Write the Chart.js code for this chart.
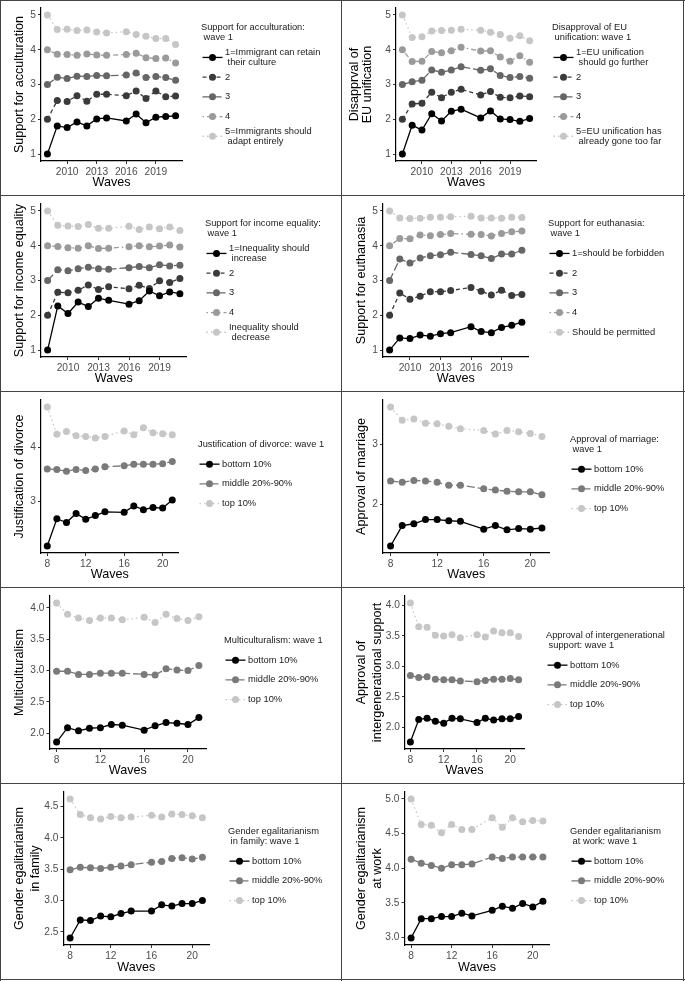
<!DOCTYPE html>
<html>
<head>
<meta charset="utf-8">
<script src="https://cdn.jsdelivr.net/npm/chart.js@4.4.1/dist/chart.umd.min.js"></script>
<style>
  body { margin: 0; background: #fff; }
  #wrap { position: relative; width: 685px; height: 981px; overflow: hidden; }
  #wrap canvas { position: absolute; }
  .ln { position: absolute; background: #444; }
</style>
</head>
<body>
<div id="wrap"></div>
<script>
// x values (no wave 15 / 2015)
const years = [2008, 2009, 2010, 2011, 2012, 2013, 2014, 2016, 2017, 2018, 2019, 2020, 2021];
const waves = [8, 9, 10, 11, 12, 13, 14, 16, 17, 18, 19, 20, 21];
const yearTicks = [2010, 2013, 2016, 2019];
const waveTicks = [8, 12, 16, 20];

// support for acculturation, by wave-1 answer
const accult1 = [1.0, 1.81, 1.76, 1.92, 1.81, 2.01, 2.04, 1.95, 2.15, 1.90, 2.06, 2.08, 2.10];
const accult2 = [2.0, 2.54, 2.51, 2.68, 2.52, 2.72, 2.72, 2.68, 2.81, 2.60, 2.81, 2.65, 2.67];
const accult3 = [3.0, 3.21, 3.17, 3.24, 3.23, 3.26, 3.25, 3.27, 3.33, 3.20, 3.23, 3.20, 3.12];
const accult4 = [4.0, 3.87, 3.86, 3.84, 3.88, 3.85, 3.84, 3.86, 3.90, 3.77, 3.75, 3.76, 3.62];
const accult5 = [5.0, 4.58, 4.59, 4.55, 4.57, 4.51, 4.48, 4.52, 4.44, 4.39, 4.32, 4.32, 4.15];

// disapproval of EU unification
const eu1 = [1.0, 1.83, 1.69, 2.16, 1.95, 2.23, 2.29, 2.04, 2.24, 2.01, 1.99, 1.94, 2.02];
const eu2 = [2.0, 2.44, 2.46, 2.78, 2.62, 2.78, 2.86, 2.70, 2.80, 2.63, 2.62, 2.67, 2.65];
const eu3 = [3.0, 3.08, 3.12, 3.42, 3.35, 3.42, 3.51, 3.41, 3.45, 3.26, 3.20, 3.23, 3.18];
const eu4 = [4.0, 3.66, 3.67, 3.95, 3.91, 3.97, 4.07, 3.96, 3.97, 3.79, 3.67, 3.83, 3.64];
const eu5 = [5.0, 4.35, 4.37, 4.54, 4.55, 4.56, 4.59, 4.56, 4.50, 4.44, 4.33, 4.40, 4.26];

// support for income equality
const inc1 = [1.0, 2.27, 2.05, 2.38, 2.25, 2.49, 2.43, 2.32, 2.42, 2.70, 2.56, 2.67, 2.62];
const inc2 = [2.0, 2.66, 2.65, 2.72, 2.87, 2.74, 2.82, 2.76, 2.86, 2.77, 2.99, 2.94, 3.06];
const inc3 = [3.0, 3.31, 3.28, 3.34, 3.38, 3.34, 3.32, 3.37, 3.40, 3.37, 3.45, 3.42, 3.44];
const inc4 = [4.0, 3.98, 3.94, 3.93, 4.00, 3.92, 3.93, 3.97, 4.00, 3.97, 3.99, 4.02, 3.96];
const inc5 = [5.0, 4.59, 4.57, 4.55, 4.61, 4.50, 4.50, 4.56, 4.47, 4.54, 4.49, 4.54, 4.44];

// support for euthanasia
const euth1 = [1.0, 1.35, 1.33, 1.43, 1.40, 1.47, 1.50, 1.67, 1.53, 1.50, 1.65, 1.71, 1.80];
const euth2 = [2.0, 2.64, 2.46, 2.55, 2.68, 2.68, 2.71, 2.80, 2.69, 2.58, 2.72, 2.57, 2.60];
const euth3 = [3.0, 3.62, 3.50, 3.65, 3.71, 3.74, 3.81, 3.75, 3.71, 3.63, 3.76, 3.76, 3.87];
const euth4 = [4.0, 4.21, 4.20, 4.31, 4.29, 4.32, 4.35, 4.33, 4.32, 4.28, 4.35, 4.40, 4.42];
const euth5 = [5.0, 4.80, 4.78, 4.79, 4.82, 4.82, 4.83, 4.85, 4.80, 4.80, 4.79, 4.82, 4.81];

// justification of divorce
const divBottom = [2.16, 2.67, 2.60, 2.77, 2.66, 2.73, 2.80, 2.79, 2.91, 2.84, 2.88, 2.87, 3.02];
const divMiddle = [3.60, 3.59, 3.56, 3.59, 3.57, 3.60, 3.64, 3.66, 3.69, 3.69, 3.69, 3.70, 3.74];
const divTop    = [4.76, 4.25, 4.30, 4.22, 4.21, 4.18, 4.21, 4.31, 4.24, 4.37, 4.28, 4.26, 4.24];

// approval of marriage
const marBottom = [1.31, 1.65, 1.68, 1.75, 1.75, 1.73, 1.72, 1.59, 1.65, 1.58, 1.60, 1.59, 1.61];
const marMiddle = [2.39, 2.37, 2.40, 2.39, 2.37, 2.32, 2.32, 2.26, 2.24, 2.22, 2.21, 2.21, 2.16];
const marTop    = [3.62, 3.40, 3.42, 3.35, 3.34, 3.30, 3.26, 3.23, 3.17, 3.23, 3.21, 3.18, 3.13];

// multiculturalism
const mulBottom = [1.86, 2.09, 2.04, 2.08, 2.09, 2.14, 2.13, 2.05, 2.12, 2.17, 2.16, 2.14, 2.25];
const mulMiddle = [2.99, 2.99, 2.94, 2.94, 2.96, 2.96, 2.96, 2.94, 2.93, 3.03, 3.01, 3.00, 3.08];
const mulTop    = [4.08, 3.90, 3.84, 3.80, 3.84, 3.84, 3.81, 3.85, 3.77, 3.90, 3.83, 3.80, 3.86];

// approval of intergenerational support
const intBottom = [1.76, 2.13, 2.15, 2.10, 2.07, 2.15, 2.14, 2.08, 2.15, 2.12, 2.14, 2.14, 2.18];
const intMiddle = [2.85, 2.82, 2.83, 2.79, 2.78, 2.78, 2.76, 2.75, 2.77, 2.79, 2.79, 2.80, 2.78];
const intTop    = [4.04, 3.65, 3.64, 3.51, 3.50, 3.52, 3.47, 3.52, 3.48, 3.58, 3.55, 3.55, 3.49];

// gender egalitarianism in family
const famBottom = [2.40, 2.69, 2.68, 2.75, 2.74, 2.79, 2.83, 2.83, 2.93, 2.91, 2.95, 2.95, 3.00];
const famMiddle = [3.49, 3.53, 3.52, 3.51, 3.53, 3.55, 3.57, 3.61, 3.62, 3.67, 3.68, 3.66, 3.69];
const famTop    = [4.62, 4.37, 4.32, 4.30, 4.34, 4.32, 4.33, 4.36, 4.33, 4.38, 4.37, 4.35, 4.32];

// gender egalitarianism at work
const wrkBottom = [2.99, 3.27, 3.27, 3.30, 3.30, 3.35, 3.31, 3.39, 3.45, 3.42, 3.49, 3.44, 3.52];
const wrkMiddle = [4.13, 4.07, 4.04, 4.00, 4.05, 4.05, 4.06, 4.16, 4.14, 4.16, 4.16, 4.16, 4.16];
const wrkTop    = [5.00, 4.63, 4.62, 4.51, 4.63, 4.56, 4.56, 4.73, 4.59, 4.73, 4.67, 4.69, 4.68];

const decileLabels = [['bottom 10%'], ['middle 20%-90%'], ['top 10%']];

const grey5 = ['#000000', '#3b3b3b', '#666666', '#9a9a9a', '#c6c6c6'];
const dash5 = [[], [4, 3], [8, 3], [1.5, 3, 5, 3], [1.5, 3]];
const grey3 = ['#000000', '#7a7a7a', '#c6c6c6'];
const dash3 = [[], [8, 3], [1.5, 3]];

const FONT = '"Liberation Sans", Arial, Helvetica, sans-serif';

const panels = [
  { col: 0, row: 0, x: years, xt: yearTicks, series: [accult1, accult2, accult3, accult4, accult5],
    ytitle: 'Support for acculturation', yt: [1, 2, 3, 4, 5], dec: 0,
    left: 41, right: 182, lx: 201, tx: 20, tlh: 1.1,
    ltitle: ['Support for acculturation:', ' wave 1'],
    labels: [['1=Immigrant can retain', ' their culture'], ['2'], ['3'], ['4'], ['5=Immigrants should', ' adapt entirely']] },
  { col: 1, row: 0, x: years, xt: yearTicks, series: [eu1, eu2, eu3, eu4, eu5],
    ytitle: ['Disapprval of', 'EU unification'], yt: [1, 2, 3, 4, 5], dec: 0,
    left: 54, right: 194, lx: 210, tx: 13, tlh: 0.98,
    ltitle: ['Disapproval of EU', ' unification: wave 1'],
    labels: [['1=EU unification', ' should go further'], ['2'], ['3'], ['4'], ['5=EU unification has', ' already gone too far']] },
  { col: 0, row: 1, x: years, xt: yearTicks, series: [inc1, inc2, inc3, inc4, inc5],
    ytitle: 'Support for income equality', yt: [1, 2, 3, 4, 5], dec: 0,
    left: 41, right: 186.5, lx: 205, tx: 20, tlh: 1.1,
    ltitle: ['Support for income equality:', ' wave 1'],
    labels: [['1=Inequality should', ' increase'], ['2'], ['3'], ['4'], ['Inequality should', ' decrease']] },
  { col: 1, row: 1, x: years, xt: yearTicks, series: [euth1, euth2, euth3, euth4, euth5],
    ytitle: 'Support for euthanasia', yt: [1, 2, 3, 4, 5], dec: 0,
    left: 41, right: 186.5, lx: 206, tx: 20, tlh: 1.1,
    ltitle: ['Support for euthanasia:', ' wave 1'],
    labels: [['1=should be forbidden'], ['2'], ['3'], ['4'], ['Should be permitted']] },
  { col: 0, row: 2, x: waves, xt: waveTicks, series: [divBottom, divMiddle, divTop],
    ytitle: 'Justification of divorce', yt: [3, 4], dec: 0,
    left: 41, right: 178.5, lx: 198, tx: 20, tlh: 1.1,
    ltitle: ['Justification of divorce: wave 1'], labels: decileLabels },
  { col: 1, row: 2, x: waves, xt: waveTicks, series: [marBottom, marMiddle, marTop],
    ytitle: 'Approval of marriage', yt: [2, 3], dec: 0,
    left: 41, right: 207.5, lx: 228, tx: 20, tlh: 1.1,
    ltitle: ['Approval of marriage:', ' wave 1'], labels: decileLabels },
  { col: 0, row: 3, x: waves, xt: waveTicks, series: [mulBottom, mulMiddle, mulTop],
    ytitle: 'Multiculturalism', yt: [2, 2.5, 3, 3.5, 4], dec: 1,
    left: 49.5, right: 206, lx: 224, tx: 20, tlh: 1.1,
    ltitle: ['Multiculturalism: wave 1'], labels: decileLabels },
  { col: 1, row: 3, x: waves, xt: waveTicks, series: [intBottom, intMiddle, intTop],
    ytitle: ['Approval of', 'intergenerational support'], yt: [2, 2.5, 3, 3.5, 4], dec: 1,
    left: 63, right: 182, lx: 204, tx: 20, tlh: 1.2,
    ltitle: ['Approval of intergenerational', ' support: wave 1'], labels: decileLabels },
  { col: 0, row: 4, x: waves, xt: waveTicks, series: [famBottom, famMiddle, famTop],
    ytitle: ['Gender egalitarianism', 'in family'], yt: [2.5, 3, 3.5, 4, 4.5], dec: 1,
    left: 63.5, right: 209, lx: 228, tx: 20, tlh: 1.2,
    ltitle: ['Gender egalitarianism', ' in family: wave 1'], labels: decileLabels },
  { col: 1, row: 4, x: waves, xt: waveTicks, series: [wrkBottom, wrkMiddle, wrkTop],
    ytitle: ['Gender egalitarianism', 'at work'], yt: [3, 3.5, 4, 4.5, 5], dec: 1,
    left: 62.5, right: 207.5, lx: 228, tx: 20, tlh: 1.2,
    ltitle: ['Gender egalitarianism', ' at work: wave 1'], labels: decileLabels }
];

const colX = [0, 342], colW = [342, 343];
const rowY = [0, 196, 392, 588, 784], rowH = [196, 196, 196, 196, 197];

// legend drawn ggplot-style to the right of the plot
const ggLegend = {
  id: 'ggLegend',
  afterDraw(chart, args, o) {
    const ctx = chart.ctx, a = chart.chartArea;
    const tl = o.title.length, n = o.items.length, step = 19.7;
    const y0 = (a.top + a.bottom) / 2 - ((tl - 1) * 10 + n * step + 5) / 2;
    ctx.save();
    ctx.font = '9.3px ' + FONT;
    ctx.fillStyle = '#1a1a1a';
    ctx.textBaseline = 'middle';
    ctx.textAlign = 'left';
    o.title.forEach((t, i) => ctx.fillText(t, o.x, y0 + i * 10));
    const kx = o.x + 1.5;
    chart.data.datasets.forEach((ds, k) => {
      const cy = y0 + (tl - 1) * 10 + (k + 1) * step;
      ctx.strokeStyle = ds.borderColor;
      ctx.lineWidth = ds.borderWidth;
      ctx.setLineDash(ds.borderDash);
      ctx.beginPath();
      ctx.moveTo(kx, cy);
      ctx.lineTo(kx + 20, cy);
      ctx.stroke();
      ctx.setLineDash([]);
      ctx.fillStyle = ds.borderColor;
      ctx.beginPath();
      ctx.arc(kx + 10, cy, ds.pointRadius, 0, Math.PI * 2);
      ctx.fill();
      ctx.fillStyle = '#1a1a1a';
      const lines = o.items[k];
      lines.forEach((t, j) => ctx.fillText(t, kx + 22.5, cy - (lines.length - 1) * 5 + j * 10));
    });
    ctx.restore();
  }
};

const wrap = document.getElementById('wrap');

panels.forEach(p => {
  const W = colW[p.col], H = rowH[p.row];
  const cv = document.createElement('canvas');
  cv.width = W; cv.height = H;
  cv.style.left = colX[p.col] + 'px';
  cv.style.top = rowY[p.row] + 'px';
  cv.style.width = W + 'px';
  cv.style.height = H + 'px';
  wrap.appendChild(cv);

  const five = p.series.length === 5;
  const greys = five ? grey5 : grey3;
  const dashes = five ? dash5 : dash3;

  const all = p.series.flat();
  const ymin = Math.min(...all), ymax = Math.max(...all);
  const yex = (ymax - ymin) * 0.05;
  const xmin = p.x[0], xmax = p.x[p.x.length - 1];
  const xex = (xmax - xmin) * 0.05;

  const datasets = p.series.map((s, i) => ({
    data: s.map((v, j) => ({ x: p.x[j], y: v })),
    borderColor: greys[i],
    backgroundColor: greys[i],
    borderWidth: 1.3,
    borderDash: dashes[i],
    pointRadius: 3.5,
    pointBorderWidth: 0,
    pointBackgroundColor: greys[i],
    tension: 0
  }));

  const tickFont = { family: FONT, size: 10.2 };
  const titleFont = { family: FONT, size: 12.6 };
  const plotBottom = 161;

  new Chart(cv, {
    type: 'line',
    data: { datasets: datasets },
    plugins: [ggLegend],
    options: {
      responsive: false,
      animation: false,
      events: [],
      layout: { padding: { left: 0, top: 8, right: W - p.right, bottom: 0 } },
      plugins: {
        legend: { display: false },
        tooltip: { enabled: false },
        ggLegend: { x: p.lx, title: p.ltitle, items: p.labels }
      },
      scales: {
        x: {
          type: 'linear',
          min: xmin - xex,
          max: xmax + xex,
          afterBuildTicks: s => { s.ticks = p.xt.map(v => ({ value: v })); },
          afterFit: s => {
            s.height = H - plotBottom;
            s.paddingLeft = 0; s.paddingRight = 0;
          },
          grid: { display: true, drawOnChartArea: false, drawTicks: true, tickLength: 3, tickColor: '#333', tickWidth: 1 },
          border: { display: true, color: '#000', width: 1.2 },
          ticks: { font: tickFont, color: '#4d4d4d', padding: 2, maxRotation: 0, autoSkip: false,
                   callback: v => String(v) },
          title: { display: true, text: 'Waves', color: '#000', font: Object.assign({ lineHeight: 1.2 }, titleFont),
                   padding: { top: 0, bottom: 5.5 } }
        },
        y: {
          type: 'linear',
          min: ymin - yex,
          max: ymax + yex,
          afterBuildTicks: s => { s.ticks = p.yt.map(v => ({ value: v })); },
          afterFit: s => {
            s.width = p.left;
            s.paddingTop = 0; s.paddingBottom = 0;
          },
          grid: { display: true, drawOnChartArea: false, drawTicks: true, tickLength: 3, tickColor: '#333', tickWidth: 1 },
          border: { display: true, color: '#000', width: 1.2 },
          ticks: { font: tickFont, color: '#4d4d4d', padding: 2, autoSkip: false,
                   callback: v => v.toFixed(p.dec) },
          title: { display: true, text: p.ytitle, color: '#000',
                   font: Object.assign({ lineHeight: p.tlh }, titleFont),
                   padding: { top: p.tx - 12.6 * p.tlh / 2, bottom: 0 } }
        }
      }
    }
  });
});

// panel frame lines
[[0, 0, 685, 1], [0, 195, 685, 1], [0, 391, 685, 1], [0, 587, 685, 1], [0, 783, 685, 1], [0, 979, 685, 1],
 [0, 0, 1, 981], [341, 0, 1, 981], [683, 0, 1, 981]].forEach(r => {
  const d = document.createElement('div');
  d.className = 'ln';
  d.style.left = r[0] + 'px'; d.style.top = r[1] + 'px';
  d.style.width = r[2] + 'px'; d.style.height = r[3] + 'px';
  wrap.appendChild(d);
});
</script>
</body>
</html>
